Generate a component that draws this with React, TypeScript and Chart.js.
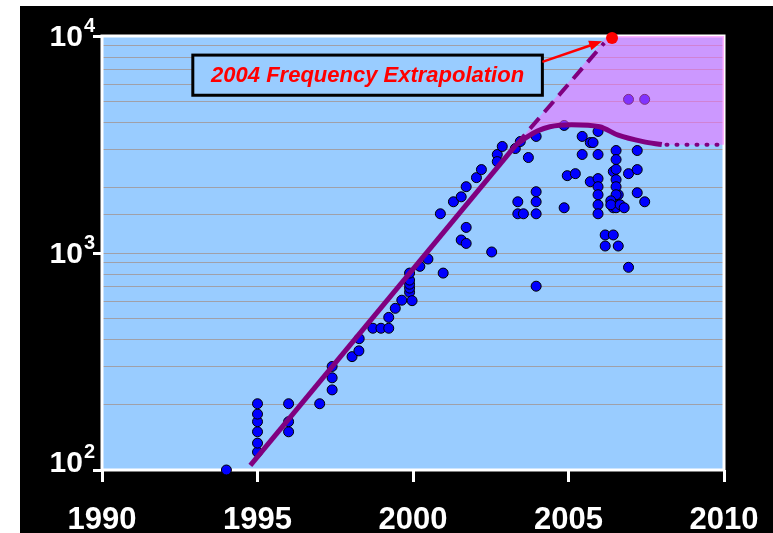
import React, { useEffect, useRef } from "react";
import { Chart, registerables } from "chart.js";

Chart.register(...registerables);

const FONT = '"Liberation Sans", Arial, sans-serif';

const X_TICKS = [1990, 1995, 2000, 2005, 2010];
const X_TICK_LABELS = ["1990", "1995", "2000", "2005", "2010"];
const Y_TICKS = [100, 1000, 10000];
const Y_TICK_EXP = ["2", "3", "4"];

// Processor clock frequencies (MHz) by year
const CPU_YEAR = [
  1994.0,
  1995.0, 1995.0, 1995.0, 1995.0, 1995.0, 1995.0,
  1996.0, 1996.0, 1996.0,
  1997.0,
  1997.4, 1997.4, 1997.4,
  1998.04, 1998.26, 1998.27, 1998.71, 1998.97,
  1999.22, 1999.22, 1999.43, 1999.64,
  1999.89, 1999.89, 1999.89, 1999.89, 1999.89, 1999.97,
  2000.22, 2000.48, 2000.97, 2000.88,
  2001.3, 2001.55, 2001.55, 2001.71, 2001.71, 2001.71,
  2002.04, 2002.2, 2002.53, 2002.71, 2002.71, 2002.87,
  2003.29, 2003.45, 2003.71, 2003.96, 2003.37, 2003.37, 2003.55,
  2003.96, 2003.96, 2003.96, 2003.96,
  2004.86, 2004.86, 2004.96, 2005.22,
  2005.44, 2005.44, 2005.7, 2005.7, 2005.79,
  2005.95, 2005.95, 2005.95, 2005.95, 2005.95, 2005.95, 2005.95,
  2006.18, 2006.18, 2006.44, 2006.44, 2006.44,
  2006.6, 2006.6, 2006.6,
  2006.53, 2006.53, 2006.53, 2006.53, 2006.53, 2006.53, 2006.53,
  2006.36, 2006.36, 2006.66, 2006.79,
  2006.93, 2006.93, 2006.93,
  2007.21, 2007.21, 2007.21,
  2007.45, 2007.45,
];
const CPU_MHZ = [
  100,
  121, 133, 150, 167, 181, 202,
  150, 167, 202,
  202,
  234, 266, 300,
  333, 354, 403, 450, 450,
  450, 505, 556, 606,
  659, 689, 718, 750, 808, 603,
  868, 938, 808, 1516,
  1722, 1815, 1148, 2021, 1312, 1107,
  2225, 2423, 1011, 2844, 2637, 3097,
  3030, 3264, 2754, 3445, 1722, 1516, 1516,
  1916, 1722, 1516, 703,
  3871, 1616, 2272, 2321,
  3445, 2844, 3228, 2131, 3228,
  3633, 2844, 2202, 2021, 1856, 1668, 1516,
  1211, 1077, 1211, 2373, 1616,
  1077, 1856, 1668,
  2967, 2696, 2430, 2178, 2021, 1856, 1616,
  1740, 1668, 1668, 1616,
  2321, 859, 5105,
  2967, 2423, 1896,
  1722, 5105,
];

// Trend lines
const TREND_YEAR = [1994.77, 2003.3];
const TREND_MHZ = [105, 3135];
const ACTUAL_YEAR = [2003.3, 2003.7, 2004.0, 2004.4, 2005.1, 2006.0, 2006.6, 2007.4, 2008.0];
const ACTUAL_MHZ = [3135, 3450, 3650, 3820, 3900, 3820, 3490, 3260, 3160];
const EXTRAP_YEAR = [2003.3, 2006.15];
const EXTRAP_MHZ = [3135, 9300];
const PLATEAU_YEAR = [2008.15, 2010];
const PLATEAU_MHZ = [3150, 3150];
const SHADE_TOP_YEAR = [2003.3, 2006.25, 2010];
const SHADE_TOP_MHZ = [3135, 10000, 10000];
const SHADE_BOTTOM_YEAR = [2003.3, 2003.7, 2004.0, 2004.4, 2005.1, 2006.0, 2006.6, 2007.4, 2008.0, 2010];
const SHADE_BOTTOM_MHZ = [3135, 3450, 3650, 3820, 3900, 3820, 3490, 3260, 3160, 3150];
const TARGET_YEAR = [2006.4];
const TARGET_MHZ = [9800];

const ANNOTATION_TEXT = "2004 Frequency Extrapolation";
const ANNOTATION_BOX_YEAR = [1992.92, 2004.16];
const ANNOTATION_BOX_MHZ = [8166, 5333];
const ARROW_YEAR = [2004.16, 2006.08];
const ARROW_MHZ = [7600, 9450];

const PURPLE = "#800080";

const pts = (xs: number[], ys: number[]) => xs.map((x, i) => ({ x, y: ys[i] }));

const decorPlugin = {
  id: "decor",
  beforeDraw(chart: any) {
    const { ctx, width, height, chartArea: a } = chart;
    ctx.save();
    ctx.fillStyle = "#ffffff";
    ctx.fillRect(0, 0, width, height);
    ctx.fillStyle = "#000000";
    ctx.fillRect(20, 6, width - 20, height - 6);
    ctx.fillStyle = "#99CCFF";
    ctx.fillRect(a.left, a.top, a.right - a.left, a.bottom - a.top);
    ctx.restore();
  },
  beforeDatasetsDraw(chart: any) {
    const { ctx, chartArea: a } = chart;
    ctx.save();
    ctx.strokeStyle = "#ffffff";
    ctx.lineWidth = 3;
    ctx.strokeRect(a.left, a.top, a.right - a.left, a.bottom - a.top);
    ctx.restore();
  },
  afterDatasetsDraw(chart: any) {
    const { ctx, chartArea: a } = chart;
    const xs = chart.scales.x;
    const ys = chart.scales.y;
    ctx.save();
    // x tick labels
    ctx.fillStyle = "#ffffff";
    ctx.textAlign = "center";
    ctx.textBaseline = "alphabetic";
    ctx.font = `bold 31px ${FONT}`;
    X_TICKS.forEach((v, i) => {
      ctx.fillText(X_TICK_LABELS[i], xs.getPixelForValue(v), a.bottom + 59);
    });
    // y tick labels 10^n
    ctx.textAlign = "right";
    Y_TICKS.forEach((v, i) => {
      const py = ys.getPixelForValue(v);
      const base = i === 0 ? py + 2 : py + 10;
      const supRight = a.left - 7;
      ctx.font = `bold 20px ${FONT}`;
      const supW = ctx.measureText(Y_TICK_EXP[i]).width;
      ctx.fillText(Y_TICK_EXP[i], supRight, base - 14);
      ctx.font = `bold 30px ${FONT}`;
      ctx.fillText("10", supRight - supW - 1, base);
    });

    // annotation box
    const bx0 = xs.getPixelForValue(ANNOTATION_BOX_YEAR[0]);
    const bx1 = xs.getPixelForValue(ANNOTATION_BOX_YEAR[1]);
    const by0 = ys.getPixelForValue(ANNOTATION_BOX_MHZ[0]);
    const by1 = ys.getPixelForValue(ANNOTATION_BOX_MHZ[1]);
    ctx.fillStyle = "#99CCFF";
    ctx.fillRect(bx0, by0, bx1 - bx0, by1 - by0);
    ctx.strokeStyle = "#000000";
    ctx.lineWidth = 3;
    ctx.strokeRect(bx0, by0, bx1 - bx0, by1 - by0);
    ctx.fillStyle = "#FF0000";
    ctx.font = `italic bold 22px ${FONT}`;
    ctx.textAlign = "center";
    ctx.textBaseline = "middle";
    ctx.fillText(ANNOTATION_TEXT, (bx0 + bx1) / 2, (by0 + by1) / 2 + 1);

    // arrow
    const ax0 = xs.getPixelForValue(ARROW_YEAR[0]);
    const ay0 = ys.getPixelForValue(ARROW_MHZ[0]);
    const ax1 = xs.getPixelForValue(ARROW_YEAR[1]);
    const ay1 = ys.getPixelForValue(ARROW_MHZ[1]);
    const ang = Math.atan2(ay1 - ay0, ax1 - ax0);
    const hl = 13, hw = 5;
    ctx.strokeStyle = "#FF0000";
    ctx.lineWidth = 2.5;
    ctx.beginPath();
    ctx.moveTo(ax0, ay0);
    ctx.lineTo(ax1 - Math.cos(ang) * hl * 0.8, ay1 - Math.sin(ang) * hl * 0.8);
    ctx.stroke();
    ctx.fillStyle = "#FF0000";
    ctx.beginPath();
    ctx.moveTo(ax1, ay1);
    ctx.lineTo(ax1 - Math.cos(ang) * hl - Math.sin(ang) * hw, ay1 - Math.sin(ang) * hl + Math.cos(ang) * hw);
    ctx.lineTo(ax1 - Math.cos(ang) * hl + Math.sin(ang) * hw, ay1 - Math.sin(ang) * hl - Math.cos(ang) * hw);
    ctx.closePath();
    ctx.fill();
    ctx.restore();
  },
};

export default function App() {
  const ref = useRef<HTMLCanvasElement>(null);
  useEffect(() => {
    if (!ref.current) return;
    const chart = new Chart(ref.current, {
      type: "scatter",
      data: {
        datasets: [
          {
            data: pts(TARGET_YEAR, TARGET_MHZ),
            pointRadius: 6,
            backgroundColor: "#FF0000",
            borderWidth: 0,
            order: 0,
            clip: false,
          } as any,
          {
            data: pts(TREND_YEAR, TREND_MHZ),
            showLine: true,
            pointRadius: 0,
            borderColor: PURPLE,
            borderWidth: 5,
            order: 1,
          },
          {
            data: pts(ACTUAL_YEAR, ACTUAL_MHZ),
            showLine: true,
            pointRadius: 0,
            borderColor: PURPLE,
            borderWidth: 5,
            tension: 0.4,
            cubicInterpolationMode: "monotone",
            order: 1,
          },
          {
            data: pts(EXTRAP_YEAR, EXTRAP_MHZ),
            showLine: true,
            pointRadius: 0,
            borderColor: PURPLE,
            borderWidth: 4,
            borderDash: [14, 8],
            order: 2,
          },
          {
            data: pts(PLATEAU_YEAR, PLATEAU_MHZ),
            showLine: true,
            pointRadius: 0,
            borderColor: PURPLE,
            borderWidth: 4,
            borderDash: [1, 9],
            borderCapStyle: "round",
            order: 2,
          },
          {
            data: pts(SHADE_TOP_YEAR, SHADE_TOP_MHZ),
            showLine: true,
            pointRadius: 0,
            borderWidth: 0,
            borderColor: "rgba(0,0,0,0)",
            backgroundColor: "rgba(255, 100, 255, 0.5)",
            fill: "+1",
            order: 4,
          },
          {
            data: pts(SHADE_BOTTOM_YEAR, SHADE_BOTTOM_MHZ),
            showLine: true,
            pointRadius: 0,
            borderWidth: 0,
            borderColor: "rgba(0,0,0,0)",
            cubicInterpolationMode: "monotone",
            order: 4,
          },
          {
            data: pts(CPU_YEAR, CPU_MHZ),
            pointRadius: 5,
            backgroundColor: "#0000FF",
            borderColor: "#000000",
            borderWidth: 1,
            order: 5,
            clip: false,
          } as any,
        ],
      },
      options: {
        animation: false,
        responsive: true,
        maintainAspectRatio: false,
        events: [],
        layout: { padding: { top: 36, right: 49, left: 0, bottom: 0 } },
        plugins: { legend: { display: false }, tooltip: { enabled: false } },
        scales: {
          x: {
            type: "linear",
            min: 1990,
            max: 2010,
            afterBuildTicks: (s: any) => {
              s.ticks = X_TICKS.map((v) => ({ value: v }));
            },
            afterFit: (s: any) => {
              s.height = 63;
            },
            ticks: { display: false },
            grid: {
              display: true,
              drawOnChartArea: false,
              drawTicks: true,
              tickLength: 12,
              tickColor: "#ffffff",
              tickWidth: 3,
            },
            border: { display: false },
          },
          y: {
            type: "logarithmic",
            min: 100,
            max: 10000,
            afterFit: (s: any) => {
              s.width = 102;
            },
            ticks: { display: false },
            grid: {
              display: true,
              drawOnChartArea: true,
              drawTicks: true,
              tickLength: 9,
              color: "#A0A0A8",
              lineWidth: 1,
              tickWidth: 3,
              tickColor: (c: any) =>
                c.tick && Y_TICKS.includes(c.tick.value) ? "#ffffff" : "rgba(0,0,0,0)",
            },
            border: { display: false },
          },
        },
      } as any,
      plugins: [decorPlugin],
    });
    return () => chart.destroy();
  }, []);

  return (
    <div style={{ position: "absolute", left: 0, top: 0, width: 773, height: 533 }}>
      <canvas ref={ref} />
    </div>
  );
}
